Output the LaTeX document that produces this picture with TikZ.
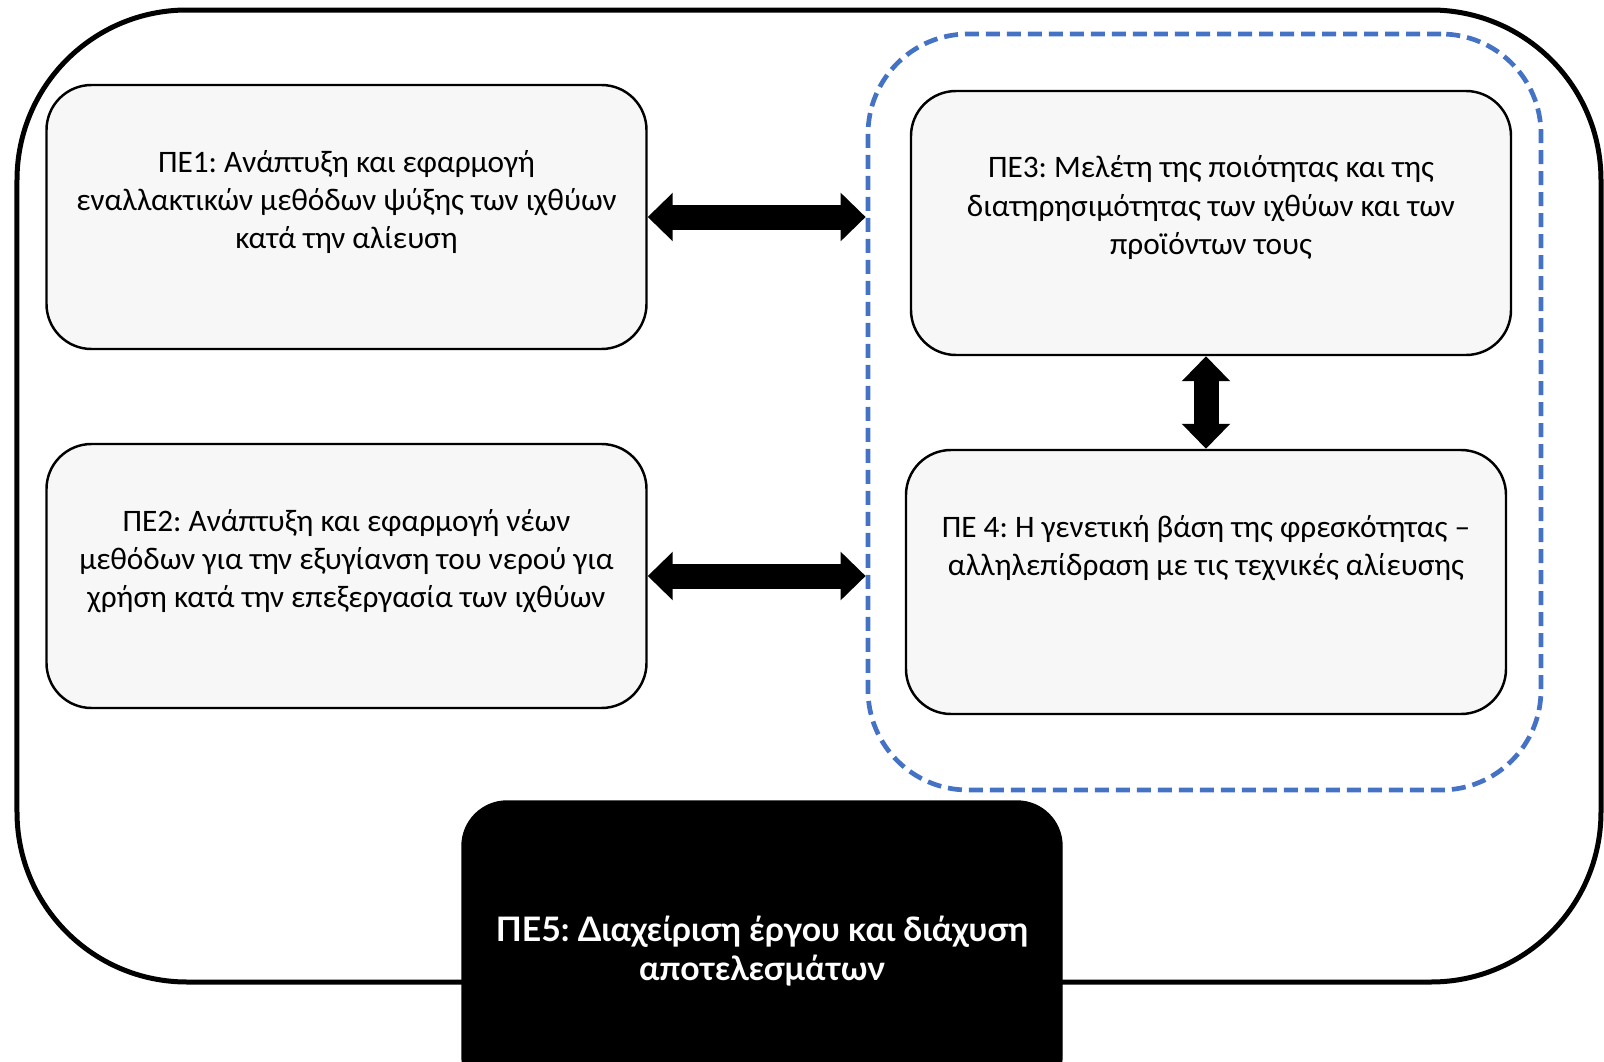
\documentclass[tikz,border=0pt]{standalone}
\usepackage{fontspec}
\setmainfont{Carlito}
\newfontfamily\wpfont{Lato}
\usepackage{tikz}
\usetikzlibrary{arrows.meta}
\usetikzlibrary{positioning}
\definecolor{boxgray}{HTML}{F7F7F7}
\definecolor{dashblue}{HTML}{4472C4}
\frenchspacing
\tikzset{
  wpbox/.style={draw=black, line width=0.7pt, fill=boxgray,
    rounded corners=0.45cm, minimum width=6cm, minimum height=2.64cm,
    inner sep=0pt, text width=5.9cm, text height=0.87cm, text depth=1.77cm,
    align=flush center, font=\fontsize{8.9}{10.9}\selectfont},
  mgmtbox/.style={draw=black, fill=black, text=white,
    rounded corners=0.45cm, minimum width=6cm, minimum height=3cm,
    align=center, font=\wpfont\bfseries\fontsize{9.6}{10.9}\selectfont},
  dblarrow/.style={line width=0.25cm,
    {Triangle[length=0.25cm,width=0.47cm]}-{Triangle[length=0.25cm,width=0.47cm]}}
}

\begin{document}
\begin{tikzpicture}[node distance=3.59cm,
    on grid]

  \useasboundingbox (0,0) rectangle (16.04,10.61);

  \node[draw, line width=0.05cm, rounded corners=1.7cm,
    minimum width=15.84cm, minimum height=9.72cm]
    (Frame) at (8.09,5.65) {};
  \node[draw=dashblue, line width=0.047cm, rounded corners=1cm,
    dash pattern=on 0.14cm off 0.07cm,
    minimum width=6.73cm, minimum height=7.56cm]
    (Quality) at (12.045,6.49) {};

  \node[wpbox]
    (WP1) at (3.465,8.44) {ΠΕ1: Ανάπτυξη και εφαρμογή\\εναλλακτικών μεθόδων ψύξης των ιχθύων\\κατά την αλίευση};
  \node[wpbox]
    (WP2) [below=of WP1] {ΠΕ2: Ανάπτυξη και εφαρμογή νέων\\μεθόδων για την εξυγίανση του νερού για\\χρήση κατά την επεξεργασία των ιχθύων};
  \node[wpbox]
    (WP3) at (12.11,8.38) {ΠΕ3: Μελέτη της ποιότητας και της\\διατηρησιμότητας των ιχθύων και των\\προϊόντων τους};
  \node[wpbox]
    (WP4) [below=of WP3, xshift=-0.05cm] {ΠΕ 4: Η γενετική βάση της φρεσκότητας –\\αλληλεπίδραση με τις τεχνικές αλίευσης};
  \node[mgmtbox]
    (WP5) at (7.62,1.1) {ΠΕ5: Διαχείριση έργου και διάχυση\\αποτελεσμάτων};

  \draw[dblarrow] (WP1.east) -- (WP1.east -| Quality.west);
  \draw[dblarrow] (WP2.east) -- (WP2.east -| Quality.west);
  \draw[dblarrow] (WP4.north) -- (WP4.north |- WP3.south);

\end{tikzpicture}
\end{document}
